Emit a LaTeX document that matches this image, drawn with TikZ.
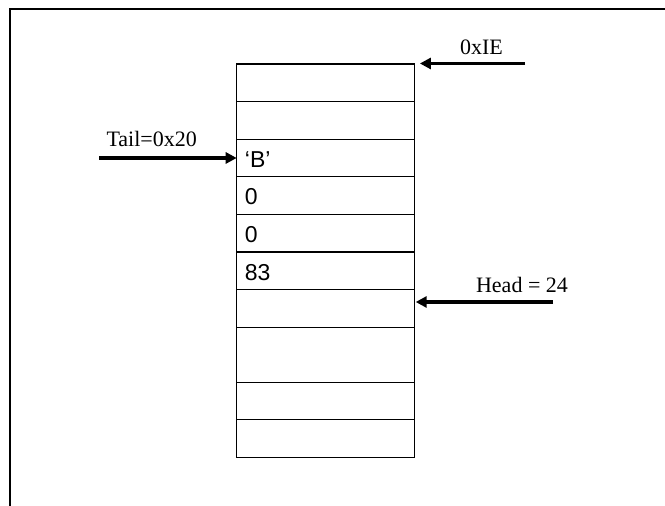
\documentclass[tikz,border=0pt]{standalone}
\usepackage{fontspec}
\setmainfont{Liberation Serif}
\newfontfamily\cellfont{Liberation Sans}
\usetikzlibrary{positioning, arrows.meta}

\tikzset{
  cell/.style={draw, line width=0.6pt, rectangle, outer sep=0pt, inner sep=0pt,
    minimum width=88.8pt, minimum height=18.8pt},
  tallcell/.style={cell, minimum height=27.5pt},
  celltext/.style={anchor=base west, inner sep=0pt, font=\cellfont\fontsize{11.5}{13}\selectfont},
  ptrtext/.style={anchor=base, inner sep=0pt, font=\fontsize{11}{13}\selectfont},
  ptr/.style={line width=1.8pt, -{Triangle[length=5.5pt,width=5.5pt]}}
}

\begin{document}
\begin{tikzpicture}[x=0.5pt,y=0.5pt]
\useasboundingbox (0,0) rectangle (665,-506);

% Marco
\draw[line width=0.85pt] (10,-506) -- (10,-8.7) -- (665,-8.7);

% Celdas del buffer
\node[cell, anchor=north west] (c1) at (236.7,-64) {};
\node[cell, below=0pt of c1] (c2) {};
\node[cell, below=0pt of c2] (c3) {};
\node[cell, below=0pt of c3] (c4) {};
\node[cell, below=0pt of c4] (c5) {};
\node[cell, below=0pt of c5] (c6) {};
\node[cell, below=0pt of c6] (c7) {};
\node[tallcell, below=0pt of c7] (c8) {};
\node[cell, below=0pt of c8] (c9) {};
\node[cell, below=0pt of c9] (c10) {};

% Contenido
\node[celltext] (vb) at (244.5,-167.7) {‘B’};
\node[celltext] (v0a) at (244.5,-205) {0};
\node[celltext] (v0b) at (244.5,-242.6) {0};
\node[celltext] (v83) at (244.5,-281) {83};

% Punteros
\coordinate (iestart) at (525,-63.5);
\coordinate (tailstart) at (99,-158);
\coordinate (headstart) at (553,-302);

\node[ptrtext] (ietext) at (481.5,-55) {0xIE};
\node[ptrtext] (tailtext) at (151.7,-146.7) {Tail=0x20};
\node[ptrtext] (headtext) at (522,-292.3) {Head = 24};

\draw[ptr] (iestart) -- ([xshift=2.8pt]c1.north east |- iestart);
\draw[ptr] (tailstart) -- (c3.west);
\draw[ptr] (headstart) -- ([xshift=0.7pt]c7.east |- headstart);
\end{tikzpicture}
\end{document}
